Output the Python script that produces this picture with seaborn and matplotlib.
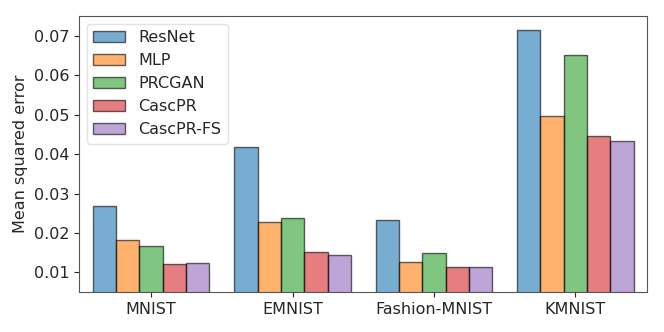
import matplotlib
matplotlib.use("Agg")
import matplotlib.pyplot as plt
import pandas as pd
import seaborn as sns

datasets = ["MNIST", "EMNIST", "Fashion-MNIST", "KMNIST"]
models = ["ResNet", "MLP", "PRCGAN", "CascPR", "CascPR-FS"]

resnet = [0.0268, 0.0417, 0.0232, 0.0714]
mlp = [0.0183, 0.0229, 0.0127, 0.0496]
prcgan = [0.0168, 0.0239, 0.0150, 0.0650]
cascpr = [0.0122, 0.0153, 0.0115, 0.0447]
cascpr_fs = [0.0125, 0.0143, 0.0113, 0.0432]

series = [resnet, mlp, prcgan, cascpr, cascpr_fs]
rows = []
for model, vals in zip(models, series):
    for ds, v in zip(datasets, vals):
        rows.append({"dataset": ds, "model": model, "mse": v})
df = pd.DataFrame(rows)

sns.set_style("ticks")
plt.rcParams["font.family"] = ["DejaVu Sans"]

fig, ax = plt.subplots(figsize=(6.64, 3.32), dpi=100)
palette = ["tab:blue", "tab:orange", "tab:green", "tab:red", "tab:purple"]
sns.barplot(data=df, x="dataset", y="mse", hue="model", order=datasets,
            hue_order=models, palette=palette, width=0.825, saturation=1,
            alpha=0.6, edgecolor="black", linewidth=1.0, ax=ax)

ax.set_xlim(-0.51, 3.51)
ax.set_ylim(0.005, 0.075)
ax.set_xlabel("")
ax.set_ylabel("Mean squared error", fontsize=11.5)
ax.tick_params(labelsize=11.5)
for s in ax.spines.values():
    s.set_color("#555555")
leg = ax.legend(loc="upper left", fontsize=11.5, frameon=True)
leg.get_frame().set_edgecolor("#dddddd")

fig.subplots_adjust(left=0.119, right=0.975, top=0.952, bottom=0.12)
fig.savefig("out.png", dpi=100)
